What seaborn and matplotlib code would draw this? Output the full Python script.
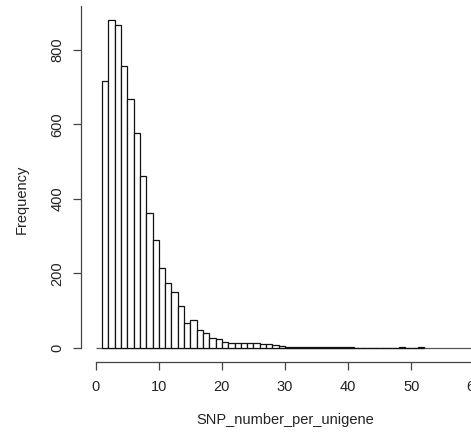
import numpy as np
import pandas as pd
import matplotlib
matplotlib.use("Agg")
import matplotlib.pyplot as plt
import seaborn as sns

# histogram bins: [1,2), [2,3), ... [51,52)
bin_left = list(range(1, 52))
counts = [718, 880, 867, 757, 668, 578, 462, 363, 289, 216,
          175, 151, 113, 66, 74, 49, 41, 26, 23, 16,
          13, 14, 13, 14, 13, 10, 10, 7, 5, 4,
          3, 2, 2, 2, 4, 2, 2, 2, 2, 2,
          0, 0, 0, 0, 0, 0, 0, 2, 0, 0,
          2]
x_ticks = [0, 10, 20, 30, 40, 50, 60]
y_ticks = [0, 200, 400, 600, 800]

sns.set_style("white")
plt.rcParams['font.family'] = ['Liberation Sans', 'DejaVu Sans']

W, H = 471, 440
fig = plt.figure(figsize=(W / 100, H / 100), dpi=100)
# axes placed in pixels so the y axis sits at x=81 and x axis at y=362
ax = fig.add_axes([81 / W, (H - 361.7) / H, 408.5 / W, 371.3 / H])

df = pd.DataFrame({"snp": np.array(bin_left) + 0.5, "n": counts})
sns.histplot(data=df, x="snp", weights="n", binwidth=1,
             binrange=(bin_left[0], bin_left[-1] + 1), ax=ax,
             color="white", edgecolor="#111111", linewidth=0.9, alpha=1)

ax.hlines(0, 0, 63, color="#555555", lw=0.9, zorder=0)

ax.set_xlim(-2.33, 62.4)
ax.set_ylim(-36.8, 960)

ax.set_xticks(x_ticks)
ax.set_yticks(y_ticks)

for side in ["top", "right"]:
    ax.spines[side].set_visible(False)
ax.spines["left"].set_bounds(0, 918)
ax.spines["bottom"].set_bounds(0, 60)
for side in ["left", "bottom"]:
    ax.spines[side].set_color("#444444")
    ax.spines[side].set_linewidth(0.9)

ax.tick_params(axis="both", direction="out", length=5.5, width=0.9,
               color="#444444", labelsize=10.5, labelcolor="#222222")
ax.tick_params(axis="x", pad=8, bottom=True)
ax.tick_params(axis="y", pad=6.5, left=True)
plt.setp(ax.get_yticklabels(), rotation=90, va="center")

ax.set_xlabel("SNP_number_per_unigene", fontsize=10.5, color="#222222", va="center")
ax.set_ylabel("Frequency", fontsize=10.5, color="#222222", va="center")
ax.xaxis.set_label_coords((285 - 81) / 408.5, (361.7 - 420) / 371.3)
ax.yaxis.set_label_coords((22 - 81) / 408.5, (361.7 - 199) / 371.3)

fig.savefig("out.png", dpi=100)
